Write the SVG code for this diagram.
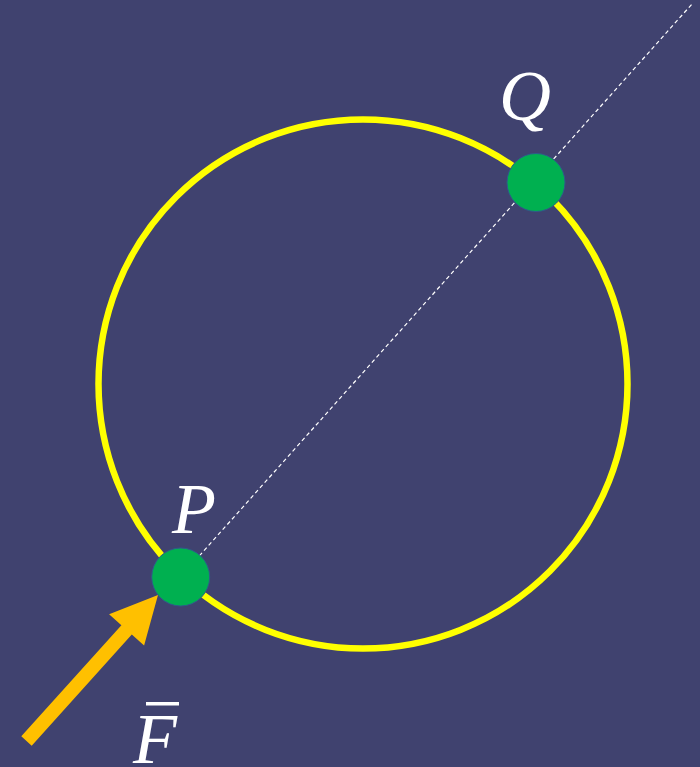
<svg xmlns="http://www.w3.org/2000/svg" width="700" height="767" viewBox="0 0 700 767">
<style>
.lbl{font-family:"Liberation Serif","DejaVu Serif",serif;font-style:italic;font-size:72px;fill:#ffffff}
.pt{fill:#00B050;stroke:#2F5A8A;stroke-width:1}
</style>
<rect width="700" height="767" fill="#40426F"/>
<g id="circle">
<circle cx="363" cy="384" r="264.5" fill="none" stroke="#FFFF00" stroke-width="6.5"/>
</g>
<g id="connectors">
<line x1="180.7" y1="576.7" x2="692" y2="4" stroke="#ffffff" stroke-width="1.2" stroke-dasharray="4,3"/>
<polygon id="force-arrow" points="21.3,736.3 121.4,625.2 109.1,614.2 158,595 144.1,645.6 131.8,634.6 31.7,745.7" fill="#FFC000"/>
</g>
<g id="Q">
<circle class="pt" cx="536" cy="182.5" r="29"/>
<text class="lbl" x="499" y="120">Q</text>
</g>
<g id="P">
<circle class="pt" cx="180.7" cy="577" r="29"/>
<text class="lbl" x="172" y="533">P</text>
</g>
<g id="F">
<text class="lbl" x="133" y="763">F</text>
<rect x="146" y="702" width="33" height="3.5" fill="#ffffff"/>
</g>
</svg>
